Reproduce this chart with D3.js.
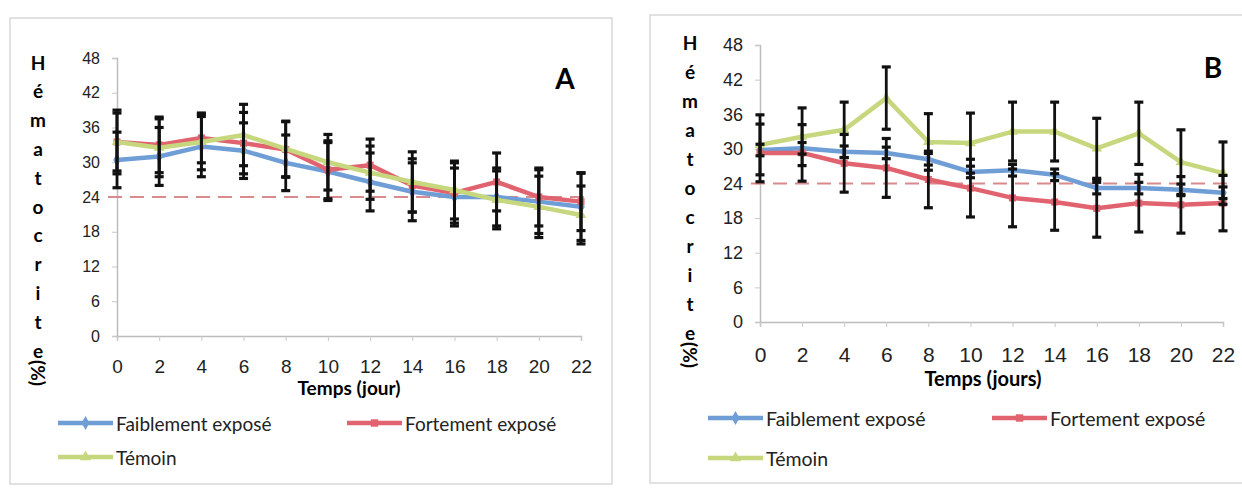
<!DOCTYPE html>
<html>
<head>
<meta charset="utf-8">
<script src="https://cdn.jsdelivr.net/npm/d3@7"></script>
<style>
  body { margin: 0; background: #fff; }
  svg { display: block; font-family: Lato, "Open Sans", sans-serif; }
</style>
</head>
<body>
<div id="content"></div>
<script>
// days and ticks
var days = [0, 2, 4, 6, 8, 10, 12, 14, 16, 18, 20, 22];
var yTicks = [0, 6, 12, 18, 24, 30, 36, 42, 48];
var seriesNames = ['Faiblement exposé', 'Fortement exposé', 'Témoin'];
var threshold = 24;

// panel A values (hematocrit %)
var faibleA = [30.4, 31, 32.7, 32, 29.9, 28.4, 26.6, 24.9, 24, 24, 23.2, 22.3];
var forteA = [33.5, 33, 34.2, 33.3, 32.2, 28.7, 29.5, 26, 24.7, 26.6, 24, 23.2];
var temoinA = [33.5, 32.5, 33.5, 34.7, 32.3, 30, 28.2, 26.6, 25.2, 23.5, 22.3, 20.9];
var errFaibleA = [4.8, 5, 5.2, 4.8, 4.8, 5, 5, 5, 5, 5, 5.5, 5.8];
var errForteA = [5.5, 4.8, 4.3, 5.3, 4.8, 5, 4.5, 4.6, 5.2, 5, 5, 5];
var errTemoinA = [5, 5, 4.8, 5.3, 4.8, 4.8, 4.6, 5.2, 5, 5, 5.3, 5];

// panel B values
var faibleB = [29.8, 30.1, 29.5, 29.3, 28.2, 26, 26.3, 25.5, 23.2, 23.2, 22.9, 22.4];
var forteB = [29.3, 29.3, 27.5, 26.7, 24.7, 23.2, 21.5, 20.8, 19.7, 20.6, 20.3, 20.6];
var temoinB = [30.7, 32.1, 33.3, 38.8, 31.2, 31, 33, 33, 30.1, 32.7, 27.7, 25.8];
var errFaibleB = [1, 1, 1, 1, 1, 1, 1, 1, 1, 1, 1, 1];
var errForteB = [5, 4.9, 5, 5.1, 4.9, 5, 5, 4.9, 5, 5, 4.9, 4.8];
var errTemoinB = [5.2, 5, 4.8, 5.4, 4.9, 5.2, 5.1, 5.1, 5.2, 5.4, 5.6, 5.4];

var colors = ['#6f9dd6', '#e0636f', '#c6d77e'];
var symbols = [d3.symbolDiamond, d3.symbolSquare, d3.symbolTriangle];

var width = 1242, height = 491;
var svg = d3.select('#content').append('svg')
  .attr('width', width)
  .attr('height', height);

function drawPanel(p) {
  var g = svg.append('g');

  // frame
  g.append('rect')
    .attr('x', p.frame[0]).attr('y', p.frame[1])
    .attr('width', p.frame[2]).attr('height', p.frame[3])
    .attr('fill', '#fff').attr('stroke', '#d8d8d8').attr('stroke-width', 1.5);

  var x = d3.scaleLinear().domain([0, 22]).range([p.left, p.right]);
  var y = d3.scaleLinear().domain([0, 48]).range([p.bottom, p.top]);

  // y axis
  var yAxis = g.append('g')
    .attr('transform', 'translate(' + p.left + ',0)')
    .call(d3.axisLeft(y).tickValues(yTicks).tickSize(5).tickPadding(p.yPad));
  yAxis.selectAll('text').style('font-size', p.tickFont + 'px').attr('fill', '#222');

  // x axis
  var xAxis = g.append('g')
    .attr('transform', 'translate(0,' + p.bottom + ')')
    .call(d3.axisBottom(x).tickValues(days).tickSize(5).tickPadding(p.xPad));
  xAxis.selectAll('text').style('font-size', p.xTickFont + 'px').attr('fill', '#222');

  [yAxis, xAxis].forEach(function(a) {
    a.select('.domain').attr('stroke', '#bdbdbd').attr('stroke-width', 1.5);
    a.selectAll('.tick line').attr('stroke', '#c8c8c8');
  });

  // x title
  g.append('text')
    .attr('x', p.xTitleX).attr('y', p.xTitleY)
    .attr('text-anchor', 'middle').attr('dominant-baseline', 'central')
    .style('font-size', p.titleFont + 'px').style('font-weight', 'bold')
    .text(p.xTitle);

  // stacked y title
  var letters = 'Hématocrite'.split('');
  letters.forEach(function(c, i) {
    g.append('text')
      .attr('x', p.yTitleX).attr('y', p.yTitleTop + i * p.yTitleStep)
      .attr('text-anchor', 'middle').attr('dominant-baseline', 'central')
      .style('font-size', p.yLetterFont + 'px').style('font-weight', 'bold')
      .text(c);
  });
  g.append('text')
    .attr('transform', 'translate(' + p.yTitleX + ',' + (p.yTitleTop + 10 * p.yTitleStep + 10) + ') rotate(90)')
    .attr('dominant-baseline', 'central')
    .style('font-size', p.yLetterFont + 'px').style('font-weight', 'bold')
    .text('(%)');

  // panel letter
  g.append('text')
    .attr('x', p.letterX).attr('y', p.letterY)
    .attr('text-anchor', 'middle').attr('dominant-baseline', 'central')
    .style('font-size', p.letterFont + 'px').style('font-weight', 'bold')
    .text(p.letter);

  // threshold dashed line
  g.append('line')
    .attr('x1', p.left - 9).attr('x2', p.right + 9)
    .attr('y1', y(threshold)).attr('y2', y(threshold))
    .attr('stroke', '#d98a8c').attr('stroke-width', 2)
    .attr('stroke-dasharray', '14,8');

  var line = d3.line()
    .x(function(d, i) { return x(days[i]); })
    .y(function(d) { return y(d); });

  // series lines + markers
  p.series.forEach(function(s, k) {
    g.append('path')
      .datum(s)
      .attr('fill', 'none')
      .attr('stroke', colors[k])
      .attr('stroke-width', 4.5)
      .attr('stroke-linejoin', 'round')
      .attr('d', line);
    g.selectAll('.m' + k)
      .data(s)
      .enter().append('path')
      .attr('transform', function(d, i) { return 'translate(' + x(days[i]) + ',' + y(d) + ')'; })
      .attr('d', d3.symbol().type(symbols[k]).size(50))
      .attr('fill', colors[k]);
  });

  // error bars
  p.series.forEach(function(s, k) {
    var err = p.errors[k];
    var eg = g.append('g').attr('stroke', '#111').attr('stroke-width', 2.8);
    s.forEach(function(v, i) {
      var cx = x(days[i]);
      var y0 = y(v - err[i]), y1 = y(v + err[i]);
      eg.append('line').attr('x1', cx).attr('x2', cx).attr('y1', y0).attr('y2', y1);
      eg.append('line').attr('x1', cx - 4.5).attr('x2', cx + 4.5).attr('y1', y0).attr('y2', y0).attr('stroke-width', 3.2);
      eg.append('line').attr('x1', cx - 4.5).attr('x2', cx + 4.5).attr('y1', y1).attr('y2', y1).attr('stroke-width', 3.2);
    });
  });

  // legend
  p.legend.forEach(function(pos, k) {
    g.append('line')
      .attr('x1', pos[0]).attr('x2', pos[0] + p.legendLen)
      .attr('y1', pos[1]).attr('y2', pos[1])
      .attr('stroke', colors[k]).attr('stroke-width', 4.5);
    g.append('path')
      .attr('transform', 'translate(' + (pos[0] + p.legendLen / 2) + ',' + pos[1] + ')')
      .attr('d', d3.symbol().type(symbols[k]).size(55))
      .attr('fill', colors[k]);
    g.append('text')
      .attr('x', pos[0] + p.legendLen + 3).attr('y', pos[1])
      .attr('dominant-baseline', 'central')
      .style('font-size', p.legendFont + 'px')
      .attr('fill', '#222')
      .text(seriesNames[k]);
  });
}

drawPanel({
  frame: [10, 18, 602, 466],
  left: 117, right: 581, top: 58, bottom: 336,
  yPad: 12, xPad: 19, tickFont: 16, xTickFont: 19, titleFont: 19,
  xTitle: 'Temps (jour)', xTitleX: 349, xTitleY: 387,
  yTitleX: 38, yTitleTop: 62, yTitleStep: 28.8, yLetterFont: 19,
  letter: 'A', letterX: 565, letterY: 78, letterFont: 28,
  series: [faibleA, forteA, temoinA],
  errors: [errFaibleA, errForteA, errTemoinA],
  legend: [[58, 423], [347, 423], [58, 457]],
  legendLen: 55, legendFont: 19
});

drawPanel({
  frame: [650, 15, 600, 468],
  left: 760, right: 1223, top: 45, bottom: 322,
  yPad: 12, xPad: 20, tickFont: 18, xTickFont: 21, titleFont: 20,
  xTitle: 'Temps (jours)', xTitleX: 983, xTitleY: 378,
  yTitleX: 690, yTitleTop: 42, yTitleStep: 29, yLetterFont: 19,
  letter: 'B', letterX: 1213, letterY: 67, letterFont: 28,
  series: [faibleB, forteB, temoinB],
  errors: [errFaibleB, errForteB, errTemoinB],
  legend: [[708, 418], [992, 418], [708, 458]],
  legendLen: 55, legendFont: 19.5
});
</script>
</body>
</html>
